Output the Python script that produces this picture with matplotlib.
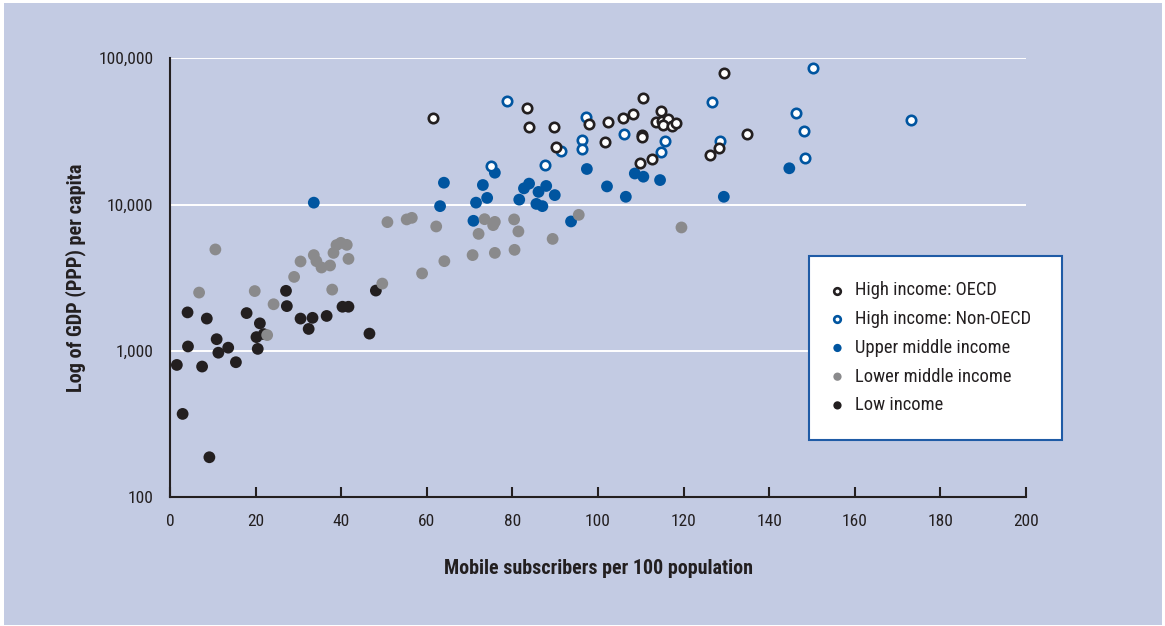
"Mobile subscribers vs GDP per capita, by income group"

import matplotlib.pyplot as plt
from matplotlib.patches import Rectangle

plt.rcParams["font.family"] = ["Roboto Condensed", "Liberation Sans Narrow",
                               "Roboto", "DejaVu Sans"]

#####
# Data
#####

oecd_x = [61.5, 83.5, 83.9, 89.7, 90.2, 97.8, 101.6, 102.4, 105.9, 108.1, 110.4,
          110.3, 110.3, 109.8, 112.5, 114.8, 113.5, 114.9, 116.4, 115.3, 117.4,
          118.3, 129.4, 134.9, 126.2, 128.3]
oecd_y = [38800, 45900, 33700, 33700, 24800, 35500, 26700, 36500, 39000, 41600,
          53500, 30000, 28800, 19100, 20400, 43800, 36800, 37200, 38200, 34900,
          34400, 35900, 79800, 30300, 21800, 24200]

nonoecd_x = [78.8, 75.1, 87.7, 91.4, 97.2, 96.3, 96.3, 106.1, 115.6, 114.7, 126.6,
             128.5, 150.3, 146.2, 148.1, 148.4, 173.2]
nonoecd_y = [51000, 18400, 18600, 23100, 39800, 27600, 24100, 30300, 27300, 23000,
             50000, 27300, 86300, 42500, 32000, 20700, 38000]

upper_x = [33.6, 63.1, 64.0, 70.9, 71.5, 73.1, 74.1, 75.9, 81.6, 82.7, 83.9, 86.1,
           87.9, 85.6, 87.0, 89.9, 93.7, 97.4, 102.1, 106.5, 108.6, 110.6, 114.5,
           129.4, 144.7]
upper_y = [10300, 9750, 14100, 7740, 10300, 13600, 11100, 16500, 10800, 12900,
           13900, 12200, 13400, 10100, 9750, 11600, 7660, 17500, 13300, 11300,
           16300, 15500, 14700, 11300, 17700]

lower_x = [10.6, 6.8, 19.8, 24.2, 29.0, 30.5, 33.6, 34.2, 35.4, 37.4, 38.2, 38.9,
           39.9, 41.3, 41.7, 37.9, 49.6, 50.8, 55.3, 56.5, 62.2, 58.9, 64.1, 22.7,
           70.7, 72.1, 73.5, 75.9, 75.5, 75.9, 80.4, 81.4, 80.5, 89.4, 95.5, 119.5]
lower_y = [4930, 2500, 2560, 2080, 3200, 4080, 4510, 4100, 3710, 3830, 4670, 5280,
           5470, 5300, 4250, 2620, 2880, 7580, 7910, 8110, 7080, 3380, 4100, 1280,
           4510, 6300, 7940, 7610, 7230, 4670, 7910, 6550, 4900, 5820, 8500, 6970]

low_x = [1.6, 2.95, 4.1, 4.2, 7.5, 8.6, 9.2, 10.9, 11.3, 13.6, 15.4, 17.9, 20.2,
         21.9, 20.5, 21.0, 27.1, 27.3, 30.5, 32.4, 33.3, 36.6, 40.3, 41.7, 46.6,
         48.1]
low_y = [800, 370, 1830, 1070, 780, 1660, 187, 1200, 970, 1050, 835, 1810, 1240,
         1300, 1030, 1540, 2570, 2020, 1660, 1410, 1680, 1730, 2000, 2000, 1310,
         2580]

xticks = [0, 20, 40, 60, 80, 100, 120, 140, 160, 180, 200]
yticks = [100, 1000, 10000, 100000]
yticklabels = ["100", "1,000", "10,000", "100,000"]

#####
# Styles
#####

panel = "#c3cbe3"
ink = "#231f20"
blue = "#0055a0"
grey = "#8a8a8c"

fig = plt.figure(figsize=(11.65, 6.26), dpi=100, facecolor="white")
fig.patches.append(Rectangle((4 / 1165, 1 / 626), 1158 / 1165, 622 / 626,
                             transform=fig.transFigure, facecolor=panel,
                             edgecolor="none", zorder=-10))
ax = fig.add_axes([170 / 1165, 1 - 497 / 626, 856 / 1165, 438.7 / 626])
ax.set_facecolor(panel)

#####
# Points
#####

ring = dict(s=46, facecolor="white", linewidths=1.9, zorder=5)
dot = dict(s=72, edgecolor="none", zorder=4)

h_low = ax.scatter(low_x, low_y, color=ink, **dot)
h_upper = ax.scatter(upper_x, upper_y, color=blue, **dot)
h_lower = ax.scatter(lower_x, lower_y, color=grey, **dot)
h_non = ax.scatter(nonoecd_x, nonoecd_y, edgecolor=blue, **ring)
h_oecd = ax.scatter(oecd_x, oecd_y, edgecolor=ink, **ring)

#####
# Axes
#####

ax.set_yscale("log")
ax.set_xlim(0, 200)
ax.set_ylim(100, 100000)
for y in yticks[1:]:
    ax.axhline(y, color="white", lw=1.4, zorder=1)

ax.set_xticks(xticks)
ax.set_yticks(yticks)
ax.set_yticklabels(yticklabels)
ax.minorticks_off()
ax.tick_params(axis="x", direction="in", length=7, width=1.5, color=ink,
               labelsize=12.5, labelcolor=ink, pad=12)
ax.tick_params(axis="y", length=0, labelsize=12.5, labelcolor=ink, pad=12)

for side in ["top", "right"]:
    ax.spines[side].set_visible(False)
for side in ["left", "bottom"]:
    ax.spines[side].set_color(ink)
    ax.spines[side].set_linewidth(1.5)

ax.set_xlabel("Mobile subscribers per 100 population", fontsize=14.4,
              fontweight="bold", color=ink, labelpad=22)
ax.set_ylabel("Log of GDP (PPP) per capita", fontsize=14.6, fontweight="bold",
              color=ink, labelpad=9)

#####
# Legend
#####

fig.patches.append(Rectangle((809 / 1165, 1 - 440 / 626), 253 / 1165, 184 / 626,
                             transform=fig.transFigure, facecolor="white",
                             edgecolor="#1f5ba6", linewidth=1.5, zorder=20))
handles = [h_oecd, h_non, h_upper, h_lower, h_low]
labels = ["High income: OECD", "High income: Non-OECD", "Upper middle income",
          "Lower middle income", "Low income"]
leg = fig.legend(handles, labels, loc="upper left",
                 bbox_to_anchor=(819 / 1165, 1 - 274 / 626), frameon=False,
                 fontsize=13.3, handletextpad=0.35, labelspacing=0.58,
                 markerscale=0.7, handlelength=1.2, borderaxespad=0)
leg.set_zorder(30)
for t in leg.get_texts():
    t.set_color(ink)

fig.savefig("out.png", dpi=100)
